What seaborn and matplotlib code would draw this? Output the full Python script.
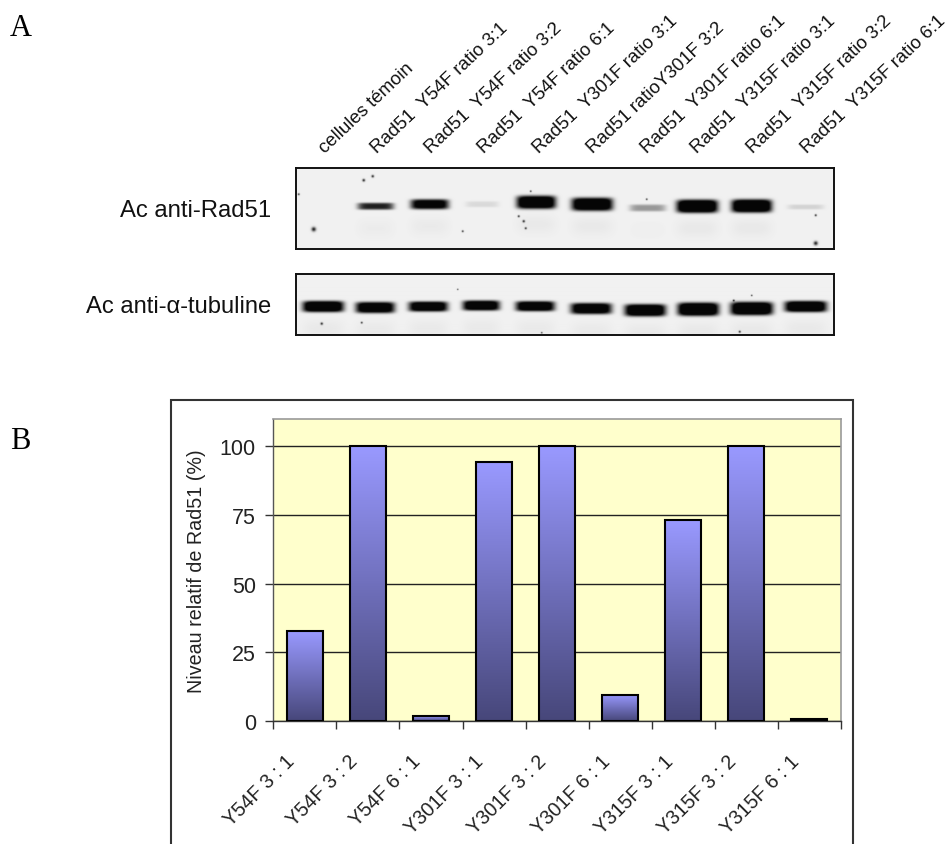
import numpy as np
import pandas as pd
import matplotlib
matplotlib.use('Agg')
import matplotlib.pyplot as plt
from matplotlib.colors import LinearSegmentedColormap
from matplotlib.patches import Rectangle
from matplotlib.transforms import ScaledTranslation
import seaborn as sns

W, H = 952, 845

# bar chart values
CATEGORIES = ['Y54F 3 : 1', 'Y54F 3 : 2', 'Y54F 6 : 1',
              'Y301F 3 : 1', 'Y301F 3 : 2', 'Y301F 6 : 1',
              'Y315F 3 : 1', 'Y315F 3 : 2', 'Y315F 6 : 1']
VALUES = [32.6, 100, 1.6, 94.3, 100, 9.5, 73, 100, 0.5]
Y_TICKS = [0, 25, 50, 75, 100]

# lane labels above the blots
LANE_LABELS = ['cellules témoin', 'Rad51  Y54F ratio 3:1', 'Rad51  Y54F ratio 3:2',
               'Rad51  Y54F ratio 6:1', 'Rad51  Y301F ratio 3:1', 'Rad51 ratioY301F 3:2',
               'Rad51  Y301F ratio 6:1', 'Rad51  Y315F ratio 3:1', 'Rad51  Y315F ratio 3:2',
               'Rad51  Y315F ratio 6:1']
LANE_X = [328, 380, 434, 487, 542, 596, 650, 700, 756, 810]

# blot bands in image pixels: left, right, centre y, height, darkness
RAD51_LEFT = [357, 410, 465, 516, 571, 629, 676, 731, 787]
RAD51_RIGHT = [393, 448, 498, 555, 612, 665, 717, 771, 823]
RAD51_Y = [207, 205, 205, 203, 205, 208.7, 207, 206.7, 207.7]
RAD51_H = [7, 10, 6, 13, 13, 7, 13, 13, 5]
RAD51_DARK = [0.9, 1.2, 0.1, 1.4, 1.4, 0.38, 1.5, 1.5, 0.13]
TUB_LEFT = [302, 355, 408, 462, 515, 570, 624, 677, 730, 784]
TUB_RIGHT = [343, 394, 447, 499, 554, 611, 665, 718, 772, 826]
TUB_Y = [307, 308, 307, 306, 306.7, 309, 310.7, 309.7, 309, 307]
TUB_H = [11, 11, 10, 10, 10, 11, 12, 13, 13, 11]
TUB_DARK = [1.4, 1.3, 1.3, 1.3, 1.3, 1.3, 1.4, 1.5, 1.5, 1.4]

# dust specks: x, y, size
RAD51_SPECKS = [(313, 230, 2.6), (363, 181, 1.6), (298, 195, 1.1), (523, 222, 1.4), (518, 217, 1.2),
                (525, 229, 1.2), (462, 232, 1.1), (815, 244, 2.4), (815, 216, 1.2), (646, 200, 1.0),
                (372, 177, 1.5), (530, 192, 1.0)]
TUB_SPECKS = [(321, 324, 1.4), (361, 323, 1.1), (457, 290, 0.8), (751, 296, 0.9),
              (739, 332, 1.2), (733, 301, 1.1), (541, 333, 0.9)]


def px_axes(fig, left, top, right, bottom):
    return fig.add_axes([left / W, 1 - bottom / H, (right - left) / W, (bottom - top) / H])


def draw_blot(fig, box, lefts, rights, ys, hs, darks, specks):
    left, top, right, bottom = box
    xx, yy = np.meshgrid(np.arange(left, right, 0.5), np.arange(top, bottom, 0.5))
    dark = np.zeros_like(xx)
    for x0, x1, yc, h, d in zip(lefts, rights, ys, hs, darks):
        xc, hw = (x0 + x1) / 2, (x1 - x0) / 2
        dark += d * np.exp(-((xx - xc) / hw) ** 6) * np.exp(-((yy - yc) / (h / 2)) ** 4)
        # faint ghost band under each strong band
        dark += 0.025 * d * np.exp(-((xx - xc) / hw) ** 4) * np.exp(-((yy - yc - 22) / 9) ** 2)
    for sx, sy, s in specks:
        dark += 0.9 * np.exp(-((xx - sx) ** 2 + (yy - sy) ** 2) / (s * s * 0.7))
    img = 0.945 - 0.92 * np.clip(dark, 0, 1)
    ax = px_axes(fig, left, top, right, bottom)
    ax.imshow(img, cmap='gray', vmin=0, vmax=1, aspect='auto',
              extent=(left, right, bottom, top), interpolation='bilinear')
    ax.set_xticks([])
    ax.set_yticks([])
    for s in ax.spines.values():
        s.set_linewidth(1.4)
        s.set_color('#111111')


def draw_chart(fig):
    # chart frame runs off the bottom of the image
    fig.add_artist(Rectangle((171 / W, 1 - 880 / H), 682 / W, 479 / H, transform=fig.transFigure,
                             facecolor='none', edgecolor='#333333', linewidth=1.5))

    ax = px_axes(fig, 273.3, 420, 841, 721.7)
    ax.set_facecolor('#FFFFCC')
    ax.set_axisbelow(True)
    df = pd.DataFrame({'cat': CATEGORIES, 'val': VALUES})
    sns.barplot(data=df, x='cat', y='val', ax=ax, width=0.57, color='#9999FF',
                edgecolor='black', linewidth=1.5, saturation=1)
    ax.set_xlim(-0.5, len(CATEGORIES) - 0.5)
    ax.set_ylim(0, 110)

    # each bar gets its own top to bottom gradient
    cmap = LinearSegmentedColormap.from_list('bar', ['#9999FF', '#47477A'])
    grad = np.linspace(0, 1, 128).reshape(-1, 1)
    for p in ax.patches:
        im = ax.imshow(grad, cmap=cmap, aspect='auto', zorder=2, vmin=0, vmax=1,
                       extent=(p.get_x(), p.get_x() + p.get_width(), 0, p.get_height()))
        im.set_clip_path(p)
        p.set_facecolor('none')
        p.set_zorder(3)
    ax.set_xlim(-0.5, len(CATEGORIES) - 0.5)
    ax.set_ylim(0, 110)

    ax.set_yticks(Y_TICKS)
    ax.yaxis.grid(True, color='#222222', linewidth=1)
    ax.xaxis.grid(False)
    ax.tick_params(axis='y', length=6, width=1, color='#333333', labelsize=15.5,
                   labelcolor='#222222', pad=6.5, left=True)
    ax.set_xticks(np.arange(-0.5, len(CATEGORIES)), labels=[])
    ax.tick_params(axis='x', which='major', length=6, width=1, color='#333333', bottom=True)
    ax.set_xticks(np.arange(len(CATEGORIES)), labels=CATEGORIES, minor=True)
    ax.tick_params(axis='x', which='minor', length=0, pad=22, labelsize=14.2, labelcolor='#222222')
    # labels end left of the bar centre, as in the original
    shift = ScaledTranslation(-0.2, 0, fig.dpi_scale_trans)
    for t in ax.get_xticklabels(minor=True):
        t.set_rotation(45)
        t.set_ha('right')
        t.set_rotation_mode('anchor')
        t.set_transform(t.get_transform() + shift)
    ax.set_xlabel('')
    ax.set_ylabel('')
    fig.text(196 / W, 1 - 571 / H, 'Niveau relatif de Rad51 (%)', rotation=90, fontsize=14.2,
             color='#222222', ha='center', va='center')
    for name in ['top', 'right']:
        ax.spines[name].set_color('#999999')
        ax.spines[name].set_linewidth(1.2)
    ax.spines['left'].set_color('#555555')
    ax.spines['bottom'].set_color('#333333')
    for name in ['left', 'bottom']:
        ax.spines[name].set_linewidth(1)


def main():
    sns.set_theme(style='white')
    plt.rcParams['font.family'] = ['Liberation Sans', 'DejaVu Sans']

    fig = plt.figure(figsize=(W / 100, H / 100), dpi=100, facecolor='white')

    draw_blot(fig, (295.5, 169, 833.5, 250), RAD51_LEFT, RAD51_RIGHT, RAD51_Y, RAD51_H,
              RAD51_DARK, RAD51_SPECKS)
    draw_blot(fig, (295.5, 275, 833.5, 335.5), TUB_LEFT, TUB_RIGHT, TUB_Y, TUB_H,
              TUB_DARK, TUB_SPECKS)

    for label, x in zip(LANE_LABELS, LANE_X):
        fig.text(x / W, 1 - 157 / H, label, rotation=43.5, fontsize=13.4, color='#111111',
                 ha='left', va='bottom', rotation_mode='anchor')

    fig.text(120 / W, 1 - 211 / H, 'Ac anti-Rad51', fontsize=17.2, color='#111111', va='center')
    fig.text(86 / W, 1 - 307 / H, 'Ac anti-α-tubuline', fontsize=17.1, color='#111111', va='center')
    fig.text(10 / W, 1 - 28 / H, 'A', fontsize=22, family='Liberation Serif', color='black', va='center')
    fig.text(10 / W, 1 - 442 / H, 'B', fontsize=22, family='Liberation Serif', color='black', va='center')

    draw_chart(fig)

    fig.savefig('out.png', dpi=100)
    plt.close(fig)


if __name__ == "__main__":
    main()
